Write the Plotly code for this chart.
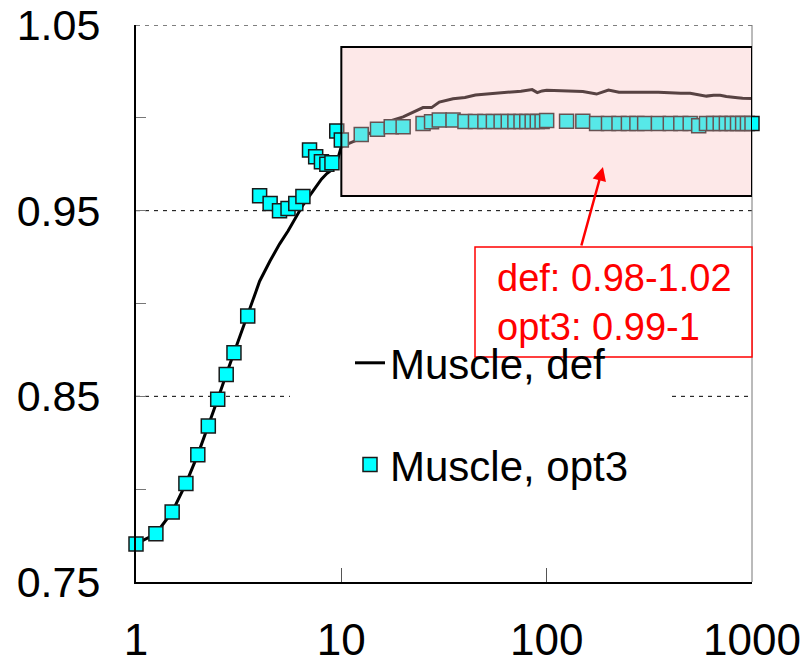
import math
import plotly.graph_objects as go

# ---- data ----
x_vals = [1, 1.25, 1.5, 1.75, 2, 2.25, 2.5, 2.75, 3, 3.5, 4, 4.5, 5, 5.5, 6, 6.5, 7, 7.5, 8, 8.5, 9, 9.5,
          10, 12.5, 15, 17.5, 20, 25, 27.5, 30, 35, 40, 45, 50, 55, 60, 65, 70, 75, 80, 85, 90, 95,
          100, 125, 150, 175, 200, 225, 250, 275, 300, 350, 400, 450, 500, 550, 600, 650, 700, 750,
          800, 850, 900, 950, 1000]

def_vals = [0.7705, 0.776, 0.7877, 0.803, 0.8186, 0.834, 0.8484, 0.8617, 0.8735, 0.8933, 0.912, 0.923,
            0.932, 0.939, 0.946, 0.953, 0.958, 0.963, 0.967, 0.970, 0.972, 0.976,
            0.9845, 0.989, 0.994, 0.9985, 1.0005, 1.0055, 1.0055, 1.0085, 1.0103, 1.011, 1.0123, 1.0128,
            1.0132, 1.0136, 1.0138, 1.0141, 1.0143, 1.0147, 1.0152, 1.0136, 1.0145,
            1.0148, 1.0146, 1.0142, 1.0128, 1.015, 1.0138, 1.0137, 1.0137, 1.0138, 1.0138, 1.0133,
            1.0132, 1.0132, 1.0125, 1.0117, 1.0122, 1.0122, 1.0115, 1.011, 1.0108, 1.0105, 1.0103, 1.0104]

opt3_vals = [0.7705, 0.776, 0.7877, 0.803, 0.8186, 0.834, 0.8484, 0.8617, 0.8735, 0.8933, 0.958, 0.9538,
             0.950, 0.9511, 0.9538, 0.9576, 0.9827, 0.9791, 0.9764, 0.975, 0.9758, 0.9929,
             0.988, 0.991, 0.9938, 0.9952, 0.9952, 0.997, 0.9979, 0.9988, 0.9988, 0.998, 0.998, 0.998,
             0.998, 0.998, 0.998, 0.998, 0.998, 0.998, 0.998, 0.998, 0.998,
             0.9985, 0.9982, 0.9982, 0.997, 0.997, 0.997, 0.997, 0.997, 0.997, 0.997, 0.997, 0.997,
             0.997, 0.9958, 0.997, 0.997, 0.997, 0.997, 0.997, 0.997, 0.997, 0.997, 0.997]

x_tickvals = [1, 10, 100, 1000]
x_ticktext = ["1", "10", "100", "1000"]
y_tickvals = [0.75, 0.80, 0.85, 0.90, 0.95, 1.00, 1.05]
y_ticktext = ["0.75", "", "0.85", "", "0.95", "", "1.05"]

series_names = ["Muscle, def", "Muscle, opt3"]
note_text = "def: 0.98-1.02<br>opt3: 0.99-1"

# highlighted region and arrow target
box_x = [10, 1000]
box_y = [0.9579, 1.0382]
arrow_pt = (188, 0.9735)

W, H = 804, 665
L, R, T, B = 136, 52, 25, 83
pw, ph = W - L - R, H - T - B

def px_to_paper_x(px):
    return (px - L) / pw

def px_to_paper_y(py):
    return (H - B - py) / ph

fig = go.Figure()
fig.add_trace(go.Scatter(
    x=x_vals, y=def_vals, mode="lines", name=series_names[0],
    line=dict(color="black", width=3), legendgroup="a", cliponaxis=False))
fig.add_trace(go.Scatter(
    x=x_vals, y=opt3_vals, mode="markers", name=series_names[1],
    marker=dict(symbol="square", size=14, color="#00FFFF", line=dict(color="#1a1a1a", width=1.5)),
    legendgroup="b", cliponaxis=False))

font_main = "Liberation Sans, Arial, sans-serif"

shapes = []
# dashed reference lines
for yv in (0.95, 1.05):
    shapes.append(dict(type="line", xref="paper", yref="y", x0=0, x1=1, y0=yv, y1=yv,
                       line=dict(color="black", width=1, dash="4px,5px"), layer="below"))
for xa, xb in ((0, px_to_paper_x(290)), (px_to_paper_x(672), 1)):
    shapes.append(dict(type="line", xref="paper", yref="y", x0=xa, x1=xb, y0=0.85, y1=0.85,
                       line=dict(color="black", width=1, dash="4px,5px"), layer="below"))
# right frame line
shapes.append(dict(type="line", xref="paper", yref="paper", x0=1, x1=1, y0=0, y1=1,
                   line=dict(color="#777777", width=1), layer="below"))
# highlighted region
shapes.append(dict(type="rect", xref="x", yref="y", x0=box_x[0], x1=box_x[1], y0=box_y[0], y1=box_y[1],
                   fillcolor="rgba(250,190,190,0.35)", line=dict(color="black", width=2), layer="above"))
# note box
shapes.append(dict(type="rect", xref="paper", yref="paper",
                   x0=px_to_paper_x(475), x1=px_to_paper_x(752),
                   y0=px_to_paper_y(357), y1=px_to_paper_y(247),
                   fillcolor="white", line=dict(color="red", width=1.5), layer="above"))

annotations = [
    dict(xref="paper", yref="paper", x=px_to_paper_x(495), y=px_to_paper_y(302),
         xanchor="left", yanchor="middle", align="left", showarrow=False,
         text=note_text, font=dict(family=font_main, size=38, color="red")),
    dict(xref="x", yref="y", x=math.log10(arrow_pt[0]), y=arrow_pt[1], text="",
         showarrow=True, ax=-22, ay=80, arrowcolor="red", arrowwidth=2.5, arrowhead=2,
         arrowsize=1.1, standoff=0),
]

fig.update_layout(
    width=W, height=H,
    margin=dict(l=L, r=R, t=T, b=B, autoexpand=False),
    paper_bgcolor="white", plot_bgcolor="white",
    font=dict(family=font_main, color="black"),
    showlegend=True,
    legend=dict(x=px_to_paper_x(350), y=px_to_paper_y(329), xanchor="left", yanchor="top",
                bgcolor="rgba(0,0,0,0)", font=dict(size=42, family=font_main),
                tracegroupgap=44, traceorder="grouped"),
    shapes=shapes, annotations=annotations,
    xaxis=dict(type="log", range=[0, 3], tickvals=x_tickvals, ticktext=x_ticktext,
               ticks="inside", ticklen=14, tickwidth=1, tickcolor="#555555", automargin=False,
               showline=True, linecolor="black", linewidth=2, showgrid=False, zeroline=False,
               tickfont=dict(size=44, family=font_main), ticklabelstandoff=18),
    yaxis=dict(range=[0.75, 1.05], tickvals=y_tickvals, ticktext=y_ticktext, automargin=False,
               ticks="inside", ticklen=10, tickwidth=1, tickcolor="#777777",
               showline=True, linecolor="black", linewidth=2, showgrid=False, zeroline=False,
               tickfont=dict(size=43, family=font_main), ticklabelstandoff=25),
)

fig.write_html("out.html")
